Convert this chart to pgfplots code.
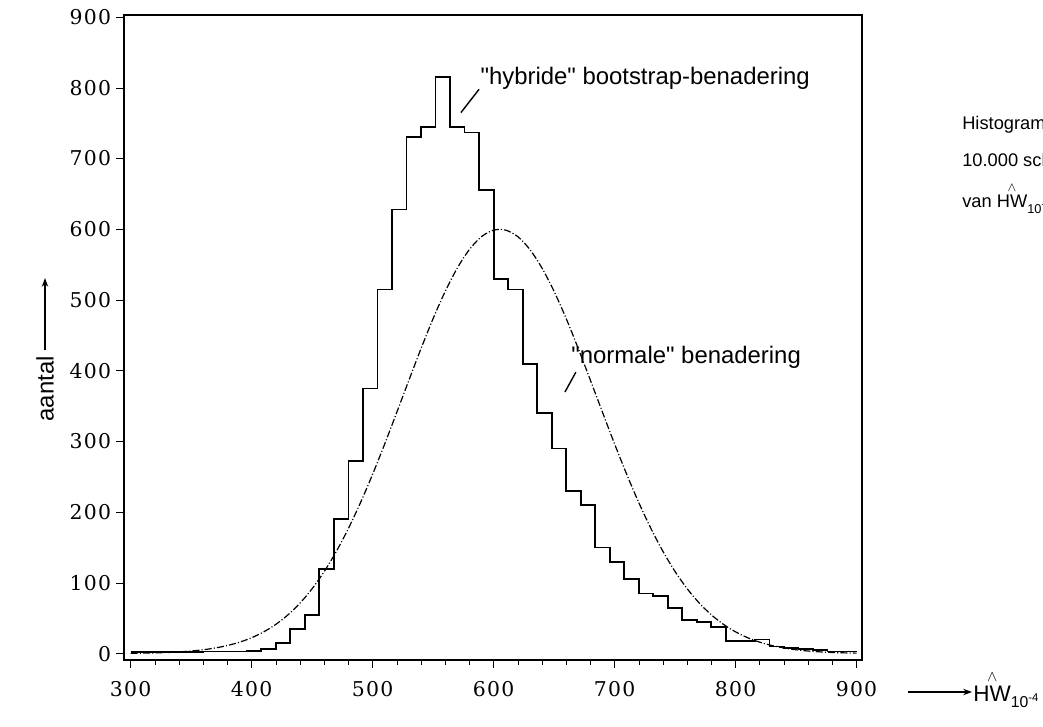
\documentclass[border=0pt]{standalone}
\usepackage{amsmath}
\usepackage{pgfplots}
\pgfplotsset{compat=1.18}
\usepackage{fontspec}
\setmainfont{Liberation Sans}
\newfontfamily\tickfont[LetterSpace=6]{DejaVu Serif}
\usetikzlibrary{arrows.meta}

% histogram: left bin edge, count (bins of width 12)
\pgfplotstableread{
x c
300 2
312 2
324 2
336 2
348 2
360 3
372 3
384 3
396 4
408 6
420 15
432 35
444 55
456 120
468 190
480 272
492 375
504 515
516 628
528 730
540 745
552 815
564 745
576 737
588 655
600 530
612 515
624 410
636 340
648 290
660 230
672 210
684 150
696 130
708 105
720 85
732 82
744 65
756 48
768 45
780 38
792 18
804 18
816 20
828 10
840 8
852 6
864 5
876 3
888 3
900 3
}\hist

\newcommand{\hw}{$\overset{\wedge}{\text{HW}}$$_{\text{10}^{\text{-4}}}$}

\begin{document}
\begin{tikzpicture}[font=\fontsize{17}{20}\selectfont]
\begin{axis}[
    at={(0,0)}, anchor=south west,
    scale only axis,
    width=184.5mm, height=161.25mm,
    xmin=294.5, xmax=904.5,
    ymin=-9, ymax=903,
    xtick={300,400,...,900},
    minor xtick={300,320,...,900},
    ytick={0,100,...,900},
    tick align=outside,
    xtick pos=bottom, ytick pos=left,
    major tick length=2mm,
    minor tick length=1.2mm,
    every tick/.style={black, line width=0.4pt},
    axis line style={line width=0.45mm},
    /pgf/number format/assume math mode=true,
    /pgf/number format/1000 sep={},
    ticklabel style={font=\tickfont\fontsize{14.5}{16}\selectfont},
    xticklabel style={yshift=-2mm},
    clip=false,
]
\addplot[const plot, black, line width=0.45mm] table[x=x, y=c] {\hist};

\addplot[black, line width=0.3mm, smooth,
    dash pattern=on 5pt off 1.5pt on 0.8pt off 1.5pt] coordinates {
(300,0.4) (310,0.7) (320,1.1) (330,1.6) (340,2.5) (350,3.7) (360,5.5)
(370,8.0) (380,11.5) (390,16.2) (400,22.5) (410,30.8) (420,41.4)
(430,54.8) (440,71.5) (450,91.8) (460,116.1) (470,144.5) (480,177.1)
(490,213.6) (500,253.6) (510,296.5) (520,341.3) (530,386.6) (540,431.3)
(550,473.8) (560,512.2) (570,545.2) (580,571.4) (590,589.6) (600,598.8)
(610,598.8) (620,589.6) (630,571.4) (640,545.2) (650,512.2) (660,473.8)
(670,431.3) (680,386.6) (690,341.3) (700,296.5) (710,253.6) (720,213.6)
(730,177.1) (740,144.5) (750,116.1) (760,91.8) (770,71.5) (780,54.8)
(790,41.4) (800,30.8) (810,22.5) (820,16.2) (830,11.5) (840,8.0)
(850,5.5) (860,3.7) (870,2.5) (880,1.6) (890,1.1) (900,0.7)
};

% annotations
\node[anchor=west, inner sep=0pt] at (axis cs:589,814) {\textquotedbl hybride\textquotedbl{} bootstrap-benadering};
\draw[line width=0.35mm] (axis cs:588,798) -- (axis cs:573,765);
\node[anchor=west, inner sep=0pt] at (axis cs:664,419) {\textquotedbl normale\textquotedbl{} benadering};
\draw[line width=0.35mm] (axis cs:668,398) -- (axis cs:659,370);
\end{axis}

% y label with arrow
\node[rotate=90, anchor=east, inner sep=0pt] at (-19.75mm,76mm) {aantal};
\draw[line width=0.3mm, -{Stealth[length=2.2mm,width=1.6mm]}] (-19.75mm,77.5mm) -- (-19.75mm,95.5mm);

% x label with arrow
\draw[line width=0.3mm, -{Stealth[length=2.2mm,width=1.6mm]}] (196mm,-8mm) -- (212mm,-8mm);
\node[anchor=west, inner sep=0pt, font=\fontsize{16}{18}\selectfont] at (212.3mm,-7.3mm) {\hw};

% side text (cut off at the right edge, as in the source)
\begin{scope}[font=\fontsize{13}{15}\selectfont]
\node[anchor=west, inner sep=0pt] at (209.5mm,133.75mm) {Histogrammen van};
\node[anchor=west, inner sep=0pt] at (209.5mm,124.5mm) {10.000 schattingen};
\node[anchor=west, inner sep=0pt] at (209.5mm,115.5mm) {van \hw{} (};
\end{scope}

\pgfresetboundingbox
\path (-31mm,-16.5mm) rectangle (229.75mm,165mm);
\end{tikzpicture}
\end{document}
